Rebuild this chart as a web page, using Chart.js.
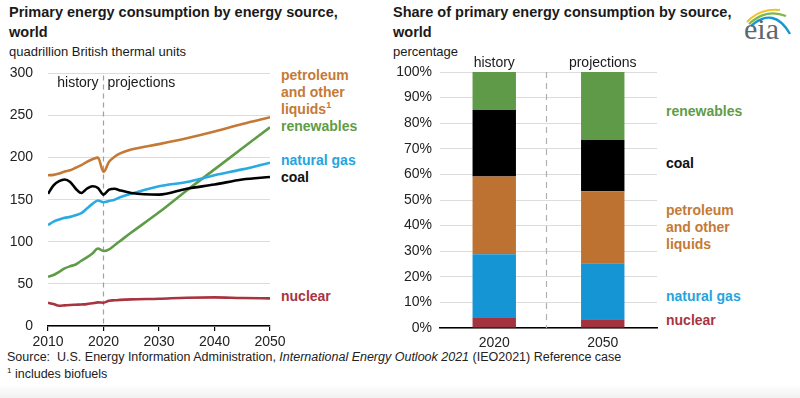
<!DOCTYPE html>
<html><head><meta charset="utf-8">
<script src="https://cdn.jsdelivr.net/npm/chart.js@4.4.1/dist/chart.umd.min.js"></script>
<style>
body{margin:0;width:800px;height:398px;background:#fff;font-family:"Liberation Sans",Arial,sans-serif;position:relative;overflow:hidden;color:#1a1a1a;}
.t{position:absolute;white-space:nowrap;line-height:16px;}
.title{font-weight:bold;font-size:14.5px;line-height:18px;}
.sub{font-size:13px;}
.lab{font-weight:bold;font-size:14px;line-height:17px;}
.foot{font-size:12.5px;color:#222;}
canvas{position:absolute;}
</style></head><body>
<div class="t title" style="left:9px;top:3px;">Primary energy consumption by energy source,</div>
<div class="t title" style="left:9px;top:23px;">world</div>
<div class="t sub" style="left:9px;top:44px;">quadrillion British thermal units</div>

<div class="t title" style="left:393px;top:3px;">Share of primary energy consumption by source,</div>
<div class="t title" style="left:393px;top:23px;">world</div>
<div class="t sub" style="left:393px;top:44px;">percentage</div>

<div style="position:absolute;left:281px;top:67px;color:#C47A36;" class="t lab">petroleum<br>and other<br>liquids<sup style="font-size:9px;vertical-align:6px;line-height:0">1</sup></div>
<div class="t lab" style="left:281px;top:118px;color:#5F9C47;">renewables</div>
<div class="t lab" style="left:281px;top:152px;color:#25A4DE;">natural gas</div>
<div class="t lab" style="left:281px;top:169px;color:#111;">coal</div>
<div class="t lab" style="left:281px;top:288px;color:#A8343F;">nuclear</div>

<div class="t lab" style="left:666px;top:103px;color:#5F9C47;">renewables</div>
<div class="t lab" style="left:666px;top:155px;color:#111;">coal</div>
<div style="position:absolute;left:666px;top:202px;color:#C47A36;" class="t lab">petroleum<br>and other<br>liquids</div>
<div class="t lab" style="left:666px;top:288px;color:#25A4DE;">natural gas</div>
<div class="t lab" style="left:666px;top:312px;color:#A8343F;">nuclear</div>

<div class="t foot" style="left:7px;top:349px;">Source:&nbsp; U.S. Energy Information Administration, <i>International Energy Outlook 2021</i> (IEO2021) Reference case</div>
<div class="t foot" style="left:7px;top:366px;"><sup style="font-size:8px;vertical-align:5px;line-height:0">1</sup> includes biofuels</div>
<div style="position:absolute;left:0;top:384px;width:800px;height:14px;background:linear-gradient(#ffffff,#f1f1f1);"></div>

<svg style="position:absolute;left:738px;top:2px;" width="60" height="44" viewBox="0 0 60 44">
<path d="M9 20 Q22 6 42 8" stroke="#F2C12E" stroke-width="2" fill="none"/>
<path d="M11 22 Q28 6 48 14" stroke="#7DB84A" stroke-width="2.2" fill="none"/>
<path d="M13 24 Q36 4 52 32" stroke="#1796D5" stroke-width="2.4" fill="none"/>
</svg>
<div class="t" style="left:744px;top:14px;font-family:'Liberation Serif','DejaVu Serif',serif;font-size:30px;line-height:30px;color:#5d6770;">eia</div>

<canvas id="c1" width="300" height="305" style="left:0;top:50px;width:300px;height:305px;"></canvas>
<canvas id="c2" width="280" height="305" style="left:390px;top:50px;width:280px;height:305px;"></canvas>

<script>
const years = [2010,2011,2012,2013,2014,2015,2016,2017,2018,2019,2020,2021,2022,2023,2025,2030,2035,2040,2045,2050];
const petroleum = [179,179.5,181,183.5,185,188,191,195,198,200,183,195,201,205,209.5,216,223,231,240,248];
const coal = [157,167,172,174,171,163,158,163,166,164,156,162,163,161,158,156,163,168,174,177];
const naturalGas = [120,124,126.5,128.5,129.6,131.6,134,139.5,145,149,147,148.5,150,153,157,166,171,179,186,194];
const renewables = [58.5,60.5,64.4,68.4,71,73,77.5,81.4,86,92,89,91,96,101,111,135,161,186,211,236];
const nuclear = [27.7,26,24,24.5,25,25.3,25.6,26,27,28,27.7,30,30.5,31,31.6,32.4,33.6,34,33.2,32.8];

const shareCategories = ['2020','2050'];
const shareNuclear = [4.2,3.4];
const shareGas = [24.6,21.9];
const sharePetroleum = [30.4,28.1];
const shareCoal = [26.0,20.0];
const shareRenewables = [14.8,26.6];

const FONT = '"Liberation Sans", Arial, sans-serif';
Chart.defaults.font.family = FONT;
Chart.defaults.color = '#222';

function pts(vals){ return years.map((y,i)=>({x:y,y:vals[i]})); }
function ds(label, vals, color){
  return {label, data: pts(vals), borderColor: color, backgroundColor: color, borderWidth: 2.6, pointRadius: 0, tension: 0.3, cubicInterpolationMode:'monotone'};
}

const divider1 = {
  id:'divider1',
  beforeDatasetsDraw(chart){
    const {ctx, chartArea, scales:{x}} = chart;
    const px = x.getPixelForValue(2020);
    ctx.save();
    ctx.strokeStyle = '#a0a0a0'; ctx.lineWidth = 1.2; ctx.setLineDash([5,4]);
    ctx.beginPath(); ctx.moveTo(px, chartArea.top+2); ctx.lineTo(px, chartArea.bottom); ctx.stroke();
    ctx.setLineDash([]);
    ctx.fillStyle = '#1a1a1a'; ctx.font = '14px '+FONT; ctx.textBaseline='middle';
    ctx.textAlign='right'; ctx.fillText('history', px-5, chartArea.top+10);
    ctx.textAlign='left'; ctx.fillText('projections', px+4, chartArea.top+10);
    ctx.restore();
  }
};

new Chart(document.getElementById('c1'), {
  type:'line',
  data:{datasets:[
    ds('nuclear', nuclear, '#A8343F'),
    ds('coal', coal, '#000000'),
    ds('natural gas', naturalGas, '#2AAAE2'),
    ds('renewables', renewables, '#5F9C47'),
    ds('petroleum and other liquids', petroleum, '#C47A36')
  ]},
  options:{
    responsive:false, animation:false, events:[],
    layout:{padding:{left:0,right:30,top:23,bottom:0}},
    plugins:{legend:{display:false},tooltip:{enabled:false}},
    scales:{
      x:{type:'linear', min:2010, max:2050,
        ticks:{stepSize:10, padding:3, font:{size:14}, color:'#222', callback:v=>String(v), maxRotation:0},
        grid:{drawOnChartArea:false, drawTicks:true, tickLength:5, color:'#000', lineWidth:1.2},
        border:{display:true, color:'#000', width:1.5},
        afterFit:s=>{s.height=29;}
      },
      y:{min:0, max:300,
        ticks:{stepSize:50, padding:15, font:{size:14}, color:'#222'},
        grid:{drawTicks:false, color:'#dcdcdc', lineWidth:1},
        border:{display:false},
        afterFit:s=>{s.width=48;}
      }
    }
  },
  plugins:[divider1]
});

const divider2 = {
  id:'divider2',
  beforeDatasetsDraw(chart){
    const {ctx, chartArea, scales:{x}} = chart;
    const px = (x.getPixelForValue(0)+x.getPixelForValue(1))/2 - 2;
    ctx.save();
    ctx.strokeStyle = '#b0b0b0'; ctx.lineWidth = 1.2; ctx.setLineDash([6,5]);
    ctx.beginPath(); ctx.moveTo(px, chartArea.top); ctx.lineTo(px, chartArea.bottom); ctx.stroke();
    ctx.setLineDash([]);
    ctx.fillStyle = '#1a1a1a'; ctx.font = '14px '+FONT; ctx.textBaseline='middle'; ctx.textAlign='center';
    ctx.fillText('history', x.getPixelForValue(0), chartArea.top-9);
    ctx.fillText('projections', x.getPixelForValue(1), chartArea.top-9);
    ctx.restore();
  }
};

function bar(label, vals, color){
  return {label, data: vals, backgroundColor: color, borderWidth:0, barPercentage:0.4, categoryPercentage:1};
}

new Chart(document.getElementById('c2'), {
  type:'bar',
  data:{labels: shareCategories, datasets:[
    bar('nuclear', shareNuclear, '#A3343F'),
    bar('natural gas', shareGas, '#1595D3'),
    bar('petroleum and other liquids', sharePetroleum, '#BE7232'),
    bar('coal', shareCoal, '#000000'),
    bar('renewables', shareRenewables, '#5E9A47')
  ]},
  options:{
    responsive:false, animation:false, events:[],
    layout:{padding:{left:0,right:13,top:22,bottom:0}},
    plugins:{legend:{display:false},tooltip:{enabled:false}},
    scales:{
      x:{stacked:true,
        ticks:{padding:7, font:{size:14}, color:'#222'},
        grid:{drawOnChartArea:false, drawTicks:false},
        border:{display:true, color:'#000', width:1.5},
        afterFit:s=>{s.height=27;}
      },
      y:{stacked:true, min:0, max:100,
        ticks:{stepSize:10, padding:8, font:{size:14}, color:'#222', callback:v=>v+'%'},
        grid:{drawTicks:false, color:'#dcdcdc', lineWidth:1},
        border:{display:false},
        afterFit:s=>{s.width=50;}
      }
    }
  },
  plugins:[divider2]
});
</script>
</body></html>
